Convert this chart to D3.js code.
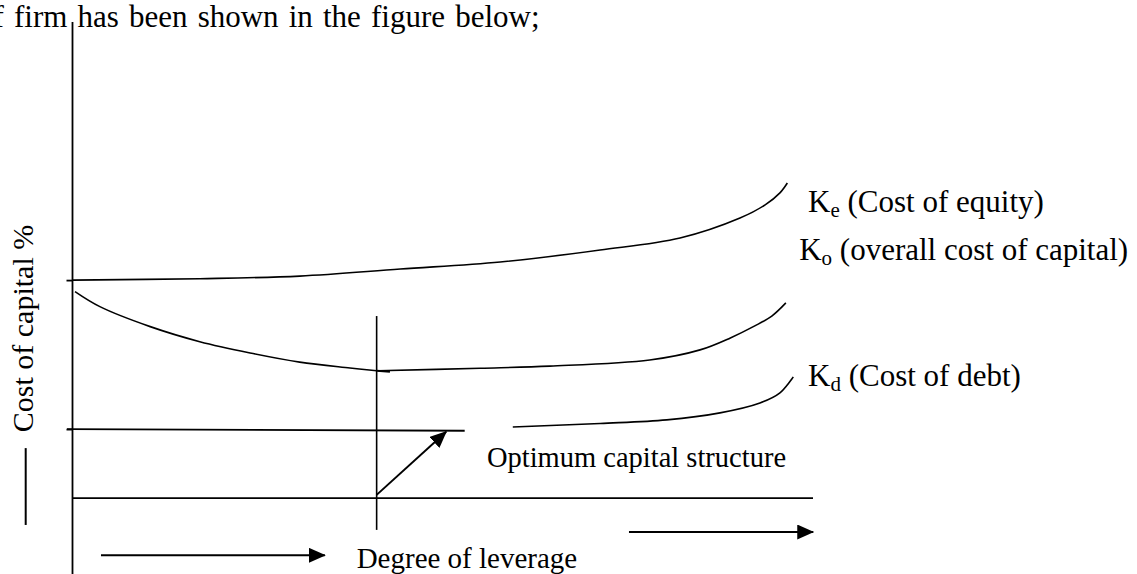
<!DOCTYPE html>
<html>
<head>
<meta charset="utf-8">
<script src="https://cdn.jsdelivr.net/npm/d3@7"></script>
<style>
  html, body { margin: 0; padding: 0; background: #fff; }
  svg { display: block; }
  text { font-family: "Liberation Serif", "Times New Roman", serif; fill: #000; }
</style>
</head>
<body>
<svg id="chart" width="1137" height="574"></svg>
<script>
// ---- data (x: degree of leverage, y: cost of capital %) ----
const keX = [0, 17.2, 30.7, 44.3, 57.8, 71.3, 82.1, 90.2, 93.6, 95.6, 96.6];
const keY = [9.26, 9.32, 9.43, 9.73, 10.03, 10.54, 11.05, 11.90, 12.46, 12.97, 13.39];

const ko1X = [0.34, 3.7, 10.5, 17.2, 24.0, 30.7, 37.5, 41.1];
const ko1Y = [8.77, 8.13, 7.28, 6.64, 6.16, 5.77, 5.52, 5.40];
const koStubX = [41.1, 42.9];
const koStubY = [5.40, 5.36];
const ko2X = [41.3, 55.1, 64.5, 78.0, 84.8, 88.9, 92.2, 94.5, 96.4];
const ko2Y = [5.40, 5.51, 5.60, 5.86, 6.29, 6.80, 7.31, 7.73, 8.29];

const kdFlatX = [-0.74, 53.0];
const kdFlatY = [2.92, 2.85];
const kdX = [59.5, 71.3, 80.3, 87.5, 92.9, 95.6, 97.4];
const kdY = [3.01, 3.16, 3.31, 3.61, 4.03, 4.46, 5.14];

const yTicks = [9.26, 2.92];
const optimumX = 41.1;

const titleText = "of firm has been shown in the figure below;";
const yLabel = "Cost of capital %";
const xLabel = "Degree of leverage";
const optLabel = "Optimum capital structure";
const seriesLabels = [
  { k: "K", sub: "e", rest: " (Cost of equity)", x: 99.4, y: 12.17 },
  { k: "K", sub: "o", rest: " (overall cost of capital)", x: 98.2, y: 10.11 },
  { k: "K", sub: "d", rest: " (Cost of debt)", x: 99.4, y: 4.77 }
];

// ---- scales ----
const svg = d3.select("#chart");
const x = d3.scaleLinear().domain([0, 100]).range([72.5, 812.5]);
const y = d3.scaleLinear().domain([0, 20]).range([497.7, 27.7]);

const zip = (xs, ys) => xs.map((v, i) => [v, ys[i]]);
const smooth = d3.line().x(d => x(d[0])).y(d => y(d[1])).curve(d3.curveCatmullRom.alpha(0.5));
const straight = d3.line().x(d => x(d[0])).y(d => y(d[1]));

// arrow marker
const defs = svg.append("defs");
defs.append("marker").attr("id", "ah").attr("viewBox", "0 0 17 15")
  .attr("refX", 16).attr("refY", 7.5)
  .attr("markerWidth", 17).attr("markerHeight", 15)
  .attr("markerUnits", "userSpaceOnUse").attr("orient", "auto")
  .append("path").attr("d", "M0,0 L17,7.5 L0,15 Z").attr("fill", "#000");

// title text
svg.append("text").attr("x", -22).attr("y", 27)
  .attr("font-size", 31).attr("word-spacing", 2.4).text(titleText);

// y axis line (full height of figure)
svg.append("path").attr("d", straight([[0, 20.24], [0, -3.25]]))
  .attr("stroke", "#000").attr("stroke-width", 1.8).attr("fill", "none");

// y axis ticks
const yAxis = d3.axisLeft(y).tickValues(yTicks).tickSize(6).tickFormat("");
const gy = svg.append("g").attr("transform", `translate(${x(0)},0)`).call(yAxis);
gy.select(".domain").remove();
gy.selectAll(".tick line").attr("stroke", "#000").attr("stroke-width", 1.8);

// x axis (baseline)
const xAxis = d3.axisBottom(x).ticks(0).tickSize(0).tickSizeOuter(0);
const gx = svg.append("g").attr("transform", `translate(0,${y(0)})`).call(xAxis);
gx.select(".domain").attr("stroke", "#000").attr("stroke-width", 1.8);
gx.selectAll(".tick").remove();

// curves
const lineStyle = sel => sel.attr("fill", "none").attr("stroke", "#000").attr("stroke-width", 1.6);
svg.append("path").attr("d", smooth(zip(keX, keY))).call(lineStyle);
svg.append("path").attr("d", smooth(zip(ko1X, ko1Y))).call(lineStyle);
svg.append("path").attr("d", straight(zip(koStubX, koStubY))).call(lineStyle).attr("stroke-width", 2);
svg.append("path").attr("d", smooth(zip(ko2X, ko2Y))).call(lineStyle);
svg.append("path").attr("d", straight(zip(kdFlatX, kdFlatY))).call(lineStyle).attr("stroke-width", 1.8);
svg.append("path").attr("d", smooth(zip(kdX, kdY))).call(lineStyle);

// optimum vertical line
svg.append("path").attr("d", straight([[optimumX, 7.73], [optimumX, -1.37]]))
  .call(lineStyle).attr("stroke-width", 1.6);

// optimum arrow
svg.append("path").attr("d", straight([[optimumX, 0.12], [50.5, 2.81]]))
  .call(lineStyle).attr("stroke-width", 2).attr("marker-end", "url(#ah)");

// direction arrows
svg.append("path").attr("d", straight([[3.85, -2.45], [34.1, -2.45]]))
  .call(lineStyle).attr("stroke-width", 2).attr("marker-end", "url(#ah)");
svg.append("path").attr("d", straight([[75.2, -1.46], [100.1, -1.46]]))
  .call(lineStyle).attr("stroke-width", 2).attr("marker-end", "url(#ah)");

// y label (rotated) and its dash
svg.append("text")
  .attr("transform", `translate(33,${y(7.2)}) rotate(-90)`)
  .attr("text-anchor", "middle").attr("font-size", 30)
  .text(yLabel);
svg.append("line").attr("x1", 25.7).attr("x2", 25.7)
  .attr("y1", y(2.11)).attr("y2", y(-1.16))
  .attr("stroke", "#000").attr("stroke-width", 2);

// x label
svg.append("text").attr("x", x(38.4)).attr("y", y(-2.99))
  .attr("font-size", 29).text(xLabel);

// optimum label
svg.append("text").attr("x", x(56.0)).attr("y", y(1.32))
  .attr("font-size", 28.5).text(optLabel);

// series labels
seriesLabels.forEach(l => {
  const t = svg.append("text").attr("x", x(l.x)).attr("y", y(l.y))
    .attr("font-size", 31).attr("xml:space", "preserve");
  t.append("tspan").text(l.k);
  t.append("tspan").attr("font-size", 21).attr("dy", 5).text(l.sub);
  t.append("tspan").attr("dy", -5).text(l.rest);
});
</script>
</body>
</html>
